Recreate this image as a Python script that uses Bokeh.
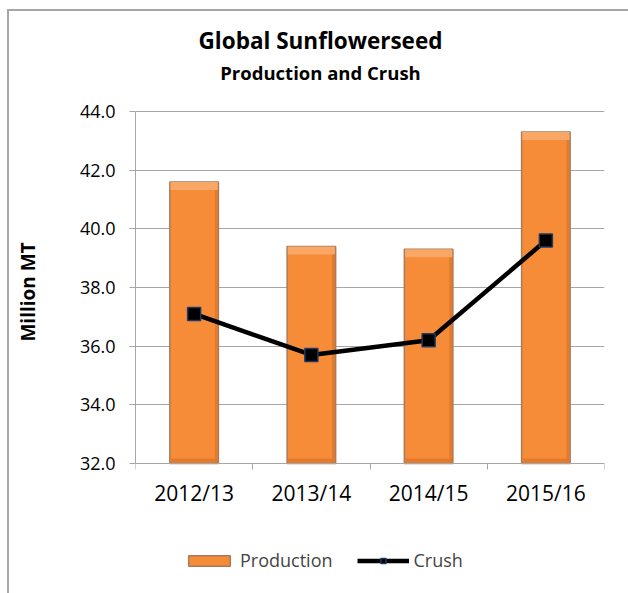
from bokeh.plotting import figure
from bokeh.models import (FixedTicker, NumeralTickFormatter, Label, Legend, LegendItem,
                          Range1d, ColumnDataSource)
from bokeh.transform import dodge
from bokeh.embed import file_html
from bokeh.resources import INLINE

categories = ["2012/13", "2013/14", "2014/15", "2015/16"]
production = [41.6, 39.4, 39.3, 43.3]
crush = [37.1, 35.7, 36.2, 39.6]
y_ticks = [32, 34, 36, 38, 40, 42, 44]

FONT = "Open Sans"
GRID = "#A6A6A6"
BAR_W = 0.414

# layout (pixels)
W, H = 628, 593
FRAME_L, FRAME_R = 135, 604
FRAME_BOTTOM_PX = 578
Y_TOP_PX, Y_BOT_PX = 111, 463          # pixel rows of the 44 and 32 gridlines
PPU = (Y_BOT_PX - Y_TOP_PX) / (max(y_ticks) - min(y_ticks))
XPPU = (FRAME_R - FRAME_L) / len(categories)


def px_to_y(py):
    return max(y_ticks) + (Y_TOP_PX - py) / PPU


def px_to_x(px):
    return (px - FRAME_L) / XPPU


base = min(y_ticks)
xs = [i + 0.5 for i in range(len(categories))]
src = ColumnDataSource(dict(x=xs, cat=categories, prod=production, crush=crush,
                            hl=[v - 8 / PPU for v in production]))

p = figure(width=W, height=H, output_backend="svg", toolbar_location=None,
           x_range=Range1d(0, len(categories)),
           y_range=Range1d(px_to_y(FRAME_BOTTOM_PX), px_to_y(0)))
p.min_border_left = FRAME_L
p.min_border_right = W - FRAME_R
p.min_border_top = 0
p.min_border_bottom = H - FRAME_BOTTOM_PX
p.outline_line_color = None
p.border_fill_color = None
p.background_fill_color = None
p.styles = {
    "background-image": "linear-gradient(#A6A6A6,#A6A6A6), linear-gradient(#A6A6A6,#A6A6A6)",
    "background-size": "2px 600px, 640px 2px",
    "background-position": "7px 9px, 7px 9px",
    "background-repeat": "no-repeat",
}

# bars with a bevel look: light top, darker bottom band and right edge
bars = p.vbar(x="x", top="prod", bottom=base, width=BAR_W, source=src,
              fill_color="#F68B38", line_color="#A67C5C", line_width=1.5)
p.vbar(x="x", top="prod", bottom="hl", width=BAR_W - 0.012, source=src,
       fill_color="#F9A766", line_color=None)
p.vbar(x="x", top=base + 5 / PPU, bottom=base, width=BAR_W - 0.012, source=src,
       fill_color="#E47B2C", line_color=None)
p.vbar(x=dodge("x", BAR_W / 2 - 0.018, range=p.x_range), top="hl", bottom=base,
       width=0.025, source=src, fill_color="#DE772B", line_color=None, fill_alpha=0.8)

line = p.line(x="x", y="crush", source=src, line_color="black", line_width=4.5)
pts = p.scatter(x="x", y="crush", source=src, marker="square", size=13,
                fill_color="black", line_color="#1F3864", line_width=1.5)

# y axis
p.yaxis.ticker = FixedTicker(ticks=y_ticks)
p.yaxis.bounds = (min(y_ticks), max(y_ticks))
p.yaxis.formatter = NumeralTickFormatter(format="0.0")
p.yaxis.major_tick_in = 0
p.yaxis.major_tick_out = 6
p.yaxis.minor_tick_line_color = None
p.yaxis.axis_line_color = GRID
p.yaxis.major_tick_line_color = GRID
p.yaxis.major_label_text_font = FONT
p.yaxis.major_label_text_font_size = "18px"
p.yaxis.major_label_text_color = "black"
p.yaxis.major_label_standoff = 14
p.yaxis.axis_label = "Million  MT"
p.yaxis.axis_label_text_font = FONT
p.yaxis.axis_label_text_font_style = "bold"
p.yaxis.axis_label_text_font_size = "19px"
p.yaxis.axis_label_text_color = "black"
p.yaxis.axis_label_standoff = 36

# x axis, fixed at the 32 line
p.xaxis.fixed_location = base
p.xaxis.ticker = FixedTicker(ticks=xs, minor_ticks=list(range(len(categories) + 1)))
p.xaxis.major_label_overrides = {x: c for x, c in zip(xs, categories)}
p.xaxis.major_tick_line_color = None
p.xaxis.minor_tick_in = 0
p.xaxis.minor_tick_out = 6
p.xaxis.minor_tick_line_color = GRID
p.xaxis.axis_line_color = GRID
p.xaxis.major_label_text_font = FONT
p.xaxis.major_label_text_font_size = "21px"
p.xaxis.major_label_text_color = "black"
p.xaxis.major_label_standoff = 9

p.xgrid.grid_line_color = None
p.ygrid.ticker = FixedTicker(ticks=y_ticks)
p.ygrid.grid_line_color = GRID

# titles
p.add_layout(Label(x=px_to_x(320), y=px_to_y(40), text="Global Sunflowerseed",
                   text_font=FONT, text_font_style="bold", text_font_size="22.5px",
                   text_color="black", text_align="center", text_baseline="alphabetic"))
p.add_layout(Label(x=px_to_x(320), y=px_to_y(72), text="Production and Crush",
                   text_font=FONT, text_font_style="bold", text_font_size="18.5px",
                   text_color="black", text_align="center", text_baseline="alphabetic"))

legend = Legend(items=[LegendItem(label="Production", renderers=[bars]),
                       LegendItem(label="Crush", renderers=[line, pts])],
                orientation="horizontal", location=(48, 6), padding=0, margin=0,
                glyph_width=52, glyph_height=13, spacing=24, label_standoff=5,
                label_text_font=FONT, label_text_font_size="18px",
                border_line_color=None, background_fill_alpha=0)
p.add_layout(legend)

open("out.html", "w").write(file_html(p, INLINE))
